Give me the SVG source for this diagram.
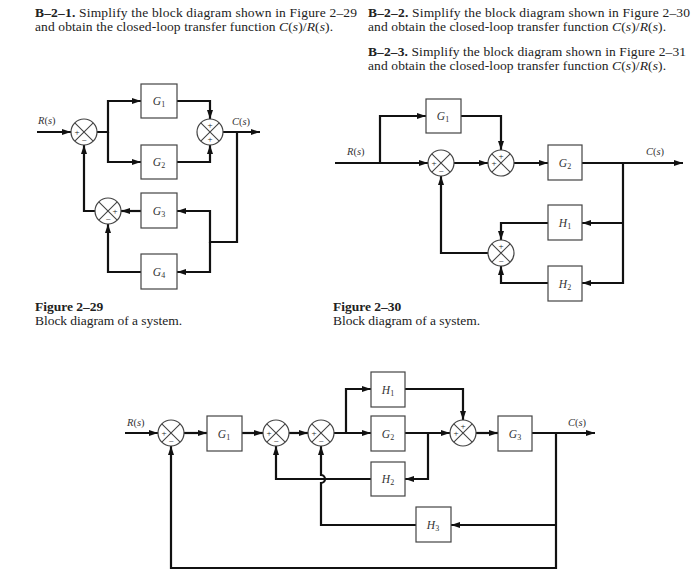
<svg xmlns="http://www.w3.org/2000/svg" width="700" height="571" viewBox="0 0 700 571">
<style>
.ln{fill:none;stroke:#111;stroke-width:2.2}
.ar{marker-end:url(#ah)}
.box{fill:#fff;stroke:#444;stroke-width:1.2}
.sc{fill:#fff;stroke:#444;stroke-width:1.2}
.sx{stroke:#444;stroke-width:1.1}
.t{font-family:"Liberation Serif",serif;font-size:13.5px;fill:#222}
.b{font-weight:bold}
.i{font-style:italic}
.lbl{font-family:"Liberation Serif",serif;font-style:italic;font-size:11.5px;fill:#333;text-anchor:middle}
.sub{font-style:normal;font-size:8px}
.sig{font-family:"Liberation Serif",serif;font-size:9px;fill:#222;text-anchor:middle}
.io{font-family:"Liberation Serif",serif;font-size:10.5px;fill:#333}
</style>
<defs>
<marker id="ah" markerWidth="9" markerHeight="6" refX="9" refY="3" orient="auto" markerUnits="userSpaceOnUse"><path d="M0,0 L9,3 L0,6 z" fill="#111"/></marker>
<g id="sj"><circle class="sc" r="13"/><path class="sx" d="M-9.2,-9.2 L9.2,9.2 M-9.2,9.2 L9.2,-9.2"/></g>
</defs>
<rect width="700" height="571" fill="#fff"/>

<g id="texts">
<text class="t" x="35" y="17" textLength="322" lengthAdjust="spacing"><tspan class="b">B–2–1.</tspan> Simplify the block diagram shown in Figure 2–29</text>
<text class="t" x="35" y="31" textLength="298" lengthAdjust="spacing">and obtain the closed-loop transfer function <tspan class="i">C</tspan>(<tspan class="i">s</tspan>)/<tspan class="i">R</tspan>(<tspan class="i">s</tspan>).</text>
<text class="t" x="368" y="17" textLength="322" lengthAdjust="spacing"><tspan class="b">B–2–2.</tspan> Simplify the block diagram shown in Figure 2–30</text>
<text class="t" x="368" y="31" textLength="298" lengthAdjust="spacing">and obtain the closed-loop transfer function <tspan class="i">C</tspan>(<tspan class="i">s</tspan>)/<tspan class="i">R</tspan>(<tspan class="i">s</tspan>).</text>
<text class="t" x="368" y="56" textLength="318" lengthAdjust="spacing"><tspan class="b">B–2–3.</tspan> Simplify the block diagram shown in Figure 2–31</text>
<text class="t" x="368" y="70" textLength="298" lengthAdjust="spacing">and obtain the closed-loop transfer function <tspan class="i">C</tspan>(<tspan class="i">s</tspan>)/<tspan class="i">R</tspan>(<tspan class="i">s</tspan>).</text>
<text class="t b" x="35" y="311">Figure 2–29</text>
<text class="t" x="35" y="325" textLength="147" lengthAdjust="spacing">Block diagram of a system.</text>
<text class="t b" x="333" y="311">Figure 2–30</text>
<text class="t" x="333" y="325" textLength="147" lengthAdjust="spacing">Block diagram of a system.</text>
<text class="io" x="38" y="124"><tspan class="i">R</tspan>(<tspan class="i">s</tspan>)</text>
<text class="io" x="232" y="125"><tspan class="i">C</tspan>(<tspan class="i">s</tspan>)</text>
<text class="io" x="347" y="155"><tspan class="i">R</tspan>(<tspan class="i">s</tspan>)</text>
<text class="io" x="646" y="155"><tspan class="i">C</tspan>(<tspan class="i">s</tspan>)</text>
<text class="io" x="127" y="426"><tspan class="i">R</tspan>(<tspan class="i">s</tspan>)</text>
<text class="io" x="568" y="426"><tspan class="i">C</tspan>(<tspan class="i">s</tspan>)</text>
</g>

<g id="connectors">
<path class="ln ar" d="M37,132 H71"/>
<path class="ln ar" d="M97,132 H108 V101 H141"/>
<path class="ln ar" d="M108,132 V162 H141"/>
<path class="ln ar" d="M177,101 H210 V119"/>
<path class="ln ar" d="M177,162 H210 V145"/>
<path class="ln ar" d="M223,132 H260"/>
<path class="ln ar" d="M237,132 V242 H210 V211 H177"/>
<path class="ln ar" d="M210,242 V272 H177"/>
<path class="ln ar" d="M141,211 H121"/>
<path class="ln ar" d="M141,272 H108 V224"/>
<path class="ln ar" d="M95,211 H84 V145"/>
<path class="ln ar" d="M335,163 H428"/>
<path class="ln ar" d="M380,163 V116 H426"/>
<path class="ln ar" d="M461,116 H501 V150"/>
<path class="ln ar" d="M454,163 H488"/>
<path class="ln ar" d="M514,163 H548"/>
<path class="ln ar" d="M582,163 H683"/>
<path class="ln ar" d="M623,163 V283 H582"/>
<path class="ln ar" d="M623,223 H582"/>
<path class="ln ar" d="M548,223 H501 V240"/>
<path class="ln ar" d="M548,283 H501 V266"/>
<path class="ln ar" d="M488,253 H441 V176"/>
<path class="ln ar" d="M125,433 H158"/>
<path class="ln ar" d="M184,433 H207"/>
<path class="ln ar" d="M242,433 H263"/>
<path class="ln ar" d="M289,433 H308"/>
<path class="ln ar" d="M334,433 H371"/>
<path class="ln ar" d="M346,433 V389 H371"/>
<path class="ln ar" d="M405,389 H463 V420"/>
<path class="ln ar" d="M405,433 H450"/>
<path class="ln ar" d="M428,433 V479 H405"/>
<path class="ln ar" d="M371,479 H276 V446"/>
<path class="ln ar" d="M476,433 H498"/>
<path class="ln ar" d="M532,433 H595"/>
<path class="ln ar" d="M556,433 V568 H171 V446"/>
<path class="ln ar" d="M556,525 H451"/>
<path class="ln ar" d="M416,525 H321 V483 A4,4 0 0 0 321,475 V446"/>
</g>

<g id="f29_s1"><use href="#sj" x="84" y="132"/><text class="sig" x="77" y="135">+</text><text class="sig" x="84" y="143">−</text></g>
<g id="f29_G1"><rect class="box" x="141" y="84" width="36" height="34"/><text class="lbl" x="159" y="105">G<tspan class="sub" dy="2">1</tspan></text></g>
<g id="f29_G2"><rect class="box" x="141" y="145" width="36" height="34"/><text class="lbl" x="159" y="166">G<tspan class="sub" dy="2">2</tspan></text></g>
<g id="f29_s2"><use href="#sj" x="210" y="132"/><text class="sig" x="210" y="128">+</text><text class="sig" x="210" y="142">+</text></g>
<g id="f29_G3"><rect class="box" x="141" y="193" width="36" height="35"/><text class="lbl" x="159" y="215">G<tspan class="sub" dy="2">3</tspan></text></g>
<g id="f29_G4"><rect class="box" x="141" y="254" width="36" height="35"/><text class="lbl" x="159" y="276">G<tspan class="sub" dy="2">4</tspan></text></g>
<g id="f29_s3"><use href="#sj" x="108" y="211"/><text class="sig" x="115" y="214">+</text><text class="sig" x="108" y="222">−</text></g>

<g id="f30_G1"><rect class="box" x="426" y="99" width="35" height="34"/><text class="lbl" x="443" y="120">G<tspan class="sub" dy="2">1</tspan></text></g>
<g id="f30_sA"><use href="#sj" x="441" y="163"/><text class="sig" x="434" y="166">+</text><text class="sig" x="441" y="174">−</text></g>
<g id="f30_sB"><use href="#sj" x="501" y="163"/><text class="sig" x="494" y="166">+</text><text class="sig" x="501" y="159">+</text></g>
<g id="f30_G2"><rect class="box" x="548" y="145" width="34" height="35"/><text class="lbl" x="565" y="167">G<tspan class="sub" dy="2">2</tspan></text></g>
<g id="f30_H1"><rect class="box" x="548" y="205" width="34" height="35"/><text class="lbl" x="565" y="227">H<tspan class="sub" dy="2">1</tspan></text></g>
<g id="f30_H2"><rect class="box" x="548" y="266" width="34" height="35"/><text class="lbl" x="565" y="288">H<tspan class="sub" dy="2">2</tspan></text></g>
<g id="f30_sC"><use href="#sj" x="501" y="253"/><text class="sig" x="501" y="249">+</text><text class="sig" x="501" y="264">−</text></g>

<g id="f31_s1"><use href="#sj" x="171" y="433"/><text class="sig" x="164" y="436">+</text><text class="sig" x="171" y="444">−</text></g>
<g id="f31_G1"><rect class="box" x="207" y="416" width="35" height="35"/><text class="lbl" x="224" y="438">G<tspan class="sub" dy="2">1</tspan></text></g>
<g id="f31_s2"><use href="#sj" x="276" y="433"/><text class="sig" x="269" y="436">+</text><text class="sig" x="276" y="444">−</text></g>
<g id="f31_s3"><use href="#sj" x="321" y="433"/><text class="sig" x="314" y="436">+</text><text class="sig" x="321" y="444">−</text></g>
<g id="f31_H1"><rect class="box" x="371" y="372" width="34" height="35"/><text class="lbl" x="388" y="394">H<tspan class="sub" dy="2">1</tspan></text></g>
<g id="f31_G2"><rect class="box" x="371" y="416" width="34" height="35"/><text class="lbl" x="388" y="438">G<tspan class="sub" dy="2">2</tspan></text></g>
<g id="f31_H2"><rect class="box" x="371" y="462" width="34" height="34"/><text class="lbl" x="388" y="483">H<tspan class="sub" dy="2">2</tspan></text></g>
<g id="f31_s4"><use href="#sj" x="463" y="433"/><text class="sig" x="456" y="436">+</text><text class="sig" x="463" y="429">+</text></g>
<g id="f31_G3"><rect class="box" x="498" y="416" width="34" height="35"/><text class="lbl" x="515" y="438">G<tspan class="sub" dy="2">3</tspan></text></g>
<g id="f31_H3"><rect class="box" x="416" y="507" width="35" height="35"/><text class="lbl" x="433" y="529">H<tspan class="sub" dy="2">3</tspan></text></g>
</svg>
